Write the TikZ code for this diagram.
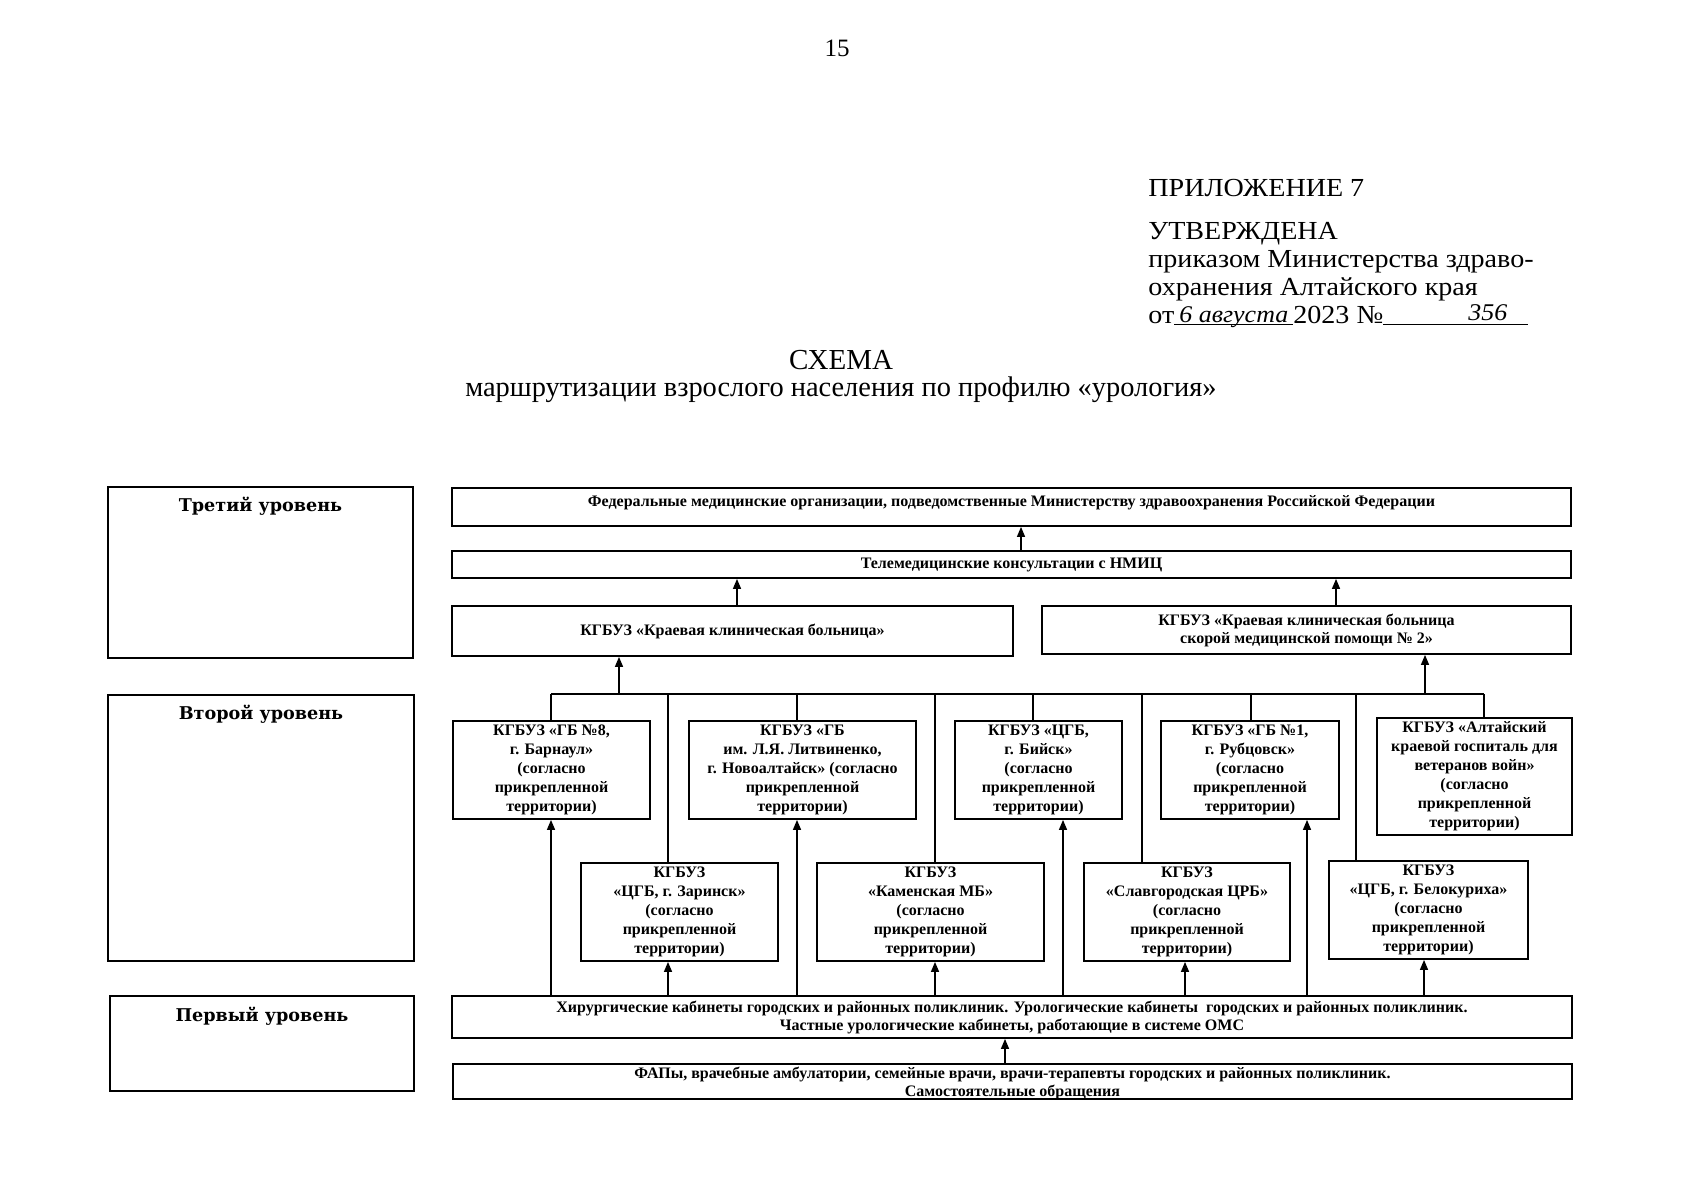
\documentclass[tikz,border=0pt]{standalone}
\usepackage{fontspec}
\setmainfont{Liberation Serif}
\newfontfamily\lvlfont{DejaVu Serif}
\newfontfamily\hdrfont[FakeStretch=1.08]{Liberation Serif}
\usetikzlibrary{arrows.meta,calc,fit}
\tikzset{
  box/.style={draw, line width=0.9pt, inner sep=0pt},
  lvlbox/.style={draw, line width=1.1pt, inner sep=0pt},
  boxtxt/.style={font=\bfseries\fontsize{8}{9.5}\selectfont, align=center, inner sep=0pt},
  smalltxt/.style={font=\bfseries\fontsize{8}{9}\selectfont, align=center, inner sep=0pt},
  lvltxt/.style={font=\lvlfont\bfseries\fontsize{8.8}{11}\selectfont, anchor=base, inner sep=0pt},
  hdr/.style={font=\hdrfont\fontsize{13}{14}\selectfont, anchor=base west, inner sep=0pt},
  conn/.style={line width=0.75pt},
  arr/.style={line width=0.75pt, -{Triangle[width=4pt,length=5pt]}}
}
\newcommand{\handw}[1]{{\itshape\fontsize{12}{14}\selectfont #1}}
\begin{document}
\begin{tikzpicture}[x=0.5pt,y=-0.5pt]
\useasboundingbox[fill=white] (0,0) rectangle (1701,1200);

% header
\node[font=\fontsize{12.5}{14}\selectfont, anchor=base, inner sep=0pt] (pg) at (837,56) {15};
\node[hdr] (h1) at (1148,196) {ПРИЛОЖЕНИЕ 7};
\node[hdr] (h2) at (1148,239) {\vtop{\baselineskip=14pt\lineskiplimit=-30pt\lineskip=0pt
  \hbox{УТВЕРЖДЕНА}
  \hbox{приказом Министерства здраво-}
  \hbox{охранения Алтайского края}
  \hbox{от\rlap{\rule[-1pt]{59.5pt}{0.35pt}}\makebox[59.5pt][c]{\raisebox{0.5pt}{\handw{6 августа}}}2023 №\rlap{\rule[-1pt]{72.5pt}{0.35pt}}\makebox[72.5pt][c]{\hspace{32pt}\raisebox{1.5pt}{\handw{356}}}}}};

\node[font=\fontsize{14.5}{17}\selectfont, anchor=base, inner sep=0pt] (t1) at (841,369) {СХЕМА};
\node[font=\fontsize{14.2}{17}\selectfont, anchor=base, inner sep=0pt] (t2) at (841,396) {маршрутизации взрослого населения по профилю «урология»};

% level boxes
\node[lvlbox, fit={(108,487)(413,658)}] (lvl3) {};
\node[lvlbox, fit={(108,695)(414,961)}] (lvl2) {};
\node[lvlbox, fit={(110,996)(414,1091)}] (lvl1) {};
\node[lvltxt] (l3) at ($(lvl3.north)+(0,26)$) {Третий уровень};
\node[lvltxt] (l2) at ($(lvl2.north)+(0,26)$) {Второй уровень};
\node[lvltxt] (l1) at ($(lvl1.north)+(0,27)$) {Первый уровень};

% third level
\node[box, fit={(452,488)(1571,526)}, label={[smalltxt, yshift=2pt]center:Федеральные медицинские организации, подведомственные Министерству здравоохранения Российской Федерации}] (fed) {};
\node[box, fit={(452,551)(1571,578)}, label={[smalltxt]center:Телемедицинские консультации с НМИЦ}] (tel) {};
\node[box, fit={(452,606)(1013,656)}, label={[smalltxt]center:КГБУЗ «Краевая клиническая больница»}] (kkb) {};
\node[box, fit={(1042,606)(1571,654)}, label={[smalltxt]center:{КГБУЗ «Краевая клиническая больница\\скорой медицинской помощи № 2»}}] (kkb2) {};

% second level, upper row
\node[box, fit={(453,721)(650,819)}, label={[boxtxt]center:{КГБУЗ «ГБ №8,\\г. Барнаул»\\(согласно\\прикрепленной\\территории)}}] (gb8) {};
\node[box, fit={(689,721)(916,819)}, label={[boxtxt]center:{КГБУЗ «ГБ\\им. Л.Я. Литвиненко,\\г. Новоалтайск» (согласно\\прикрепленной\\территории)}}] (lit) {};
\node[box, fit={(955,721)(1122,819)}, label={[boxtxt]center:{КГБУЗ «ЦГБ,\\г. Бийск»\\(согласно\\прикрепленной\\территории)}}] (bij) {};
\node[box, fit={(1161,721)(1339,819)}, label={[boxtxt]center:{КГБУЗ «ГБ №1,\\г. Рубцовск»\\(согласно\\прикрепленной\\территории)}}] (rub) {};
\node[box, fit={(1377,718)(1572,835)}, label={[boxtxt]center:{КГБУЗ «Алтайский\\краевой госпиталь для\\ветеранов войн»\\(согласно\\прикрепленной\\территории)}}] (alt) {};

% second level, lower row
\node[box, fit={(581,863)(778,961)}, label={[boxtxt]center:{КГБУЗ\\«ЦГБ, г. Заринск»\\(согласно\\прикрепленной\\территории)}}] (zar) {};
\node[box, fit={(817,863)(1044,961)}, label={[boxtxt]center:{КГБУЗ\\«Каменская МБ»\\(согласно\\прикрепленной\\территории)}}] (kam) {};
\node[box, fit={(1084,863)(1290,961)}, label={[boxtxt]center:{КГБУЗ\\«Славгородская ЦРБ»\\(согласно\\прикрепленной\\территории)}}] (sl) {};
\node[box, fit={(1329,861)(1528,959)}, label={[boxtxt]center:{КГБУЗ\\«ЦГБ, г. Белокуриха»\\(согласно\\прикрепленной\\территории)}}] (bel) {};

% first level
\node[box, fit={(452,996)(1572,1038)}, label={[smalltxt]center:{Хирургические кабинеты городских и районных поликлиник. Урологические кабинеты\ \ городских и районных поликлиник.\\Частные урологические кабинеты, работающие в системе ОМС}}] (hir) {};
\node[box, fit={(453,1064)(1572,1099)}, label={[smalltxt, yshift=-1pt]center:{ФАПы, врачебные амбулатории, семейные врачи, врачи-терапевты городских и районных поликлиник.\\Самостоятельные обращения}}] (fap) {};

% connectors
\coordinate (busL) at (551,694);
\coordinate (busR) at (1484,694);
\draw[conn] (busL) -- (busR);

\coordinate (xf) at (1021,0);
\coordinate (xk1) at (737,0);
\coordinate (xk2) at (1336,0);
\coordinate (xb1) at (619,0);
\coordinate (xb2) at (1425,0);
\draw[arr] (xf |- tel.north) -- (xf |- fed.south);
\draw[arr] (xk1 |- kkb.north) -- (xk1 |- tel.south);
\draw[arr] (xk2 |- kkb2.north) -- (xk2 |- tel.south);
\draw[arr] (xb1 |- busL) -- (xb1 |- kkb.south);
\draw[arr] (xb2 |- busL) -- (xb2 |- kkb2.south);

% stubs from bus to boxes
\coordinate (s1) at (551,0);
\coordinate (s2) at (797,0);
\coordinate (s3) at (1033,0);
\coordinate (s4) at (1251,0);
\coordinate (s5) at (1484,0);
\coordinate (s6) at (668,0);
\coordinate (s7) at (935,0);
\coordinate (s8) at (1142,0);
\coordinate (s9) at (1356,0);
\draw[conn] (s1 |- busL) -- (s1 |- gb8.north);
\draw[conn] (s2 |- busL) -- (s2 |- lit.north);
\draw[conn] (s3 |- busL) -- (s3 |- bij.north);
\draw[conn] (s4 |- busL) -- (s4 |- rub.north);
\draw[conn] (s5 |- busL) -- (s5 |- alt.north);
\draw[conn] (s6 |- busL) -- (s6 |- zar.north);
\draw[conn] (s7 |- busL) -- (s7 |- kam.north);
\draw[conn] (s8 |- busL) -- (s8 |- sl.north);
\draw[conn] (s9 |- busL) -- (s9 |- bel.north);

% arrows from first level
\coordinate (a1) at (551,0);
\coordinate (a2) at (668,0);
\coordinate (a3) at (797,0);
\coordinate (a4) at (935,0);
\coordinate (a5) at (1063,0);
\coordinate (a6) at (1185,0);
\coordinate (a7) at (1307,0);
\coordinate (a8) at (1424,0);
\draw[arr] (a1 |- hir.north) -- (a1 |- gb8.south);
\draw[arr] (a2 |- hir.north) -- (a2 |- zar.south);
\draw[arr] (a3 |- hir.north) -- (a3 |- lit.south);
\draw[arr] (a4 |- hir.north) -- (a4 |- kam.south);
\draw[arr] (a5 |- hir.north) -- (a5 |- bij.south);
\draw[arr] (a6 |- hir.north) -- (a6 |- sl.south);
\draw[arr] (a7 |- hir.north) -- (a7 |- rub.south);
\draw[arr] (a8 |- hir.north) -- (a8 |- bel.south);

\coordinate (xfap) at (1005,0);
\draw[arr] (xfap |- fap.north) -- (xfap |- hir.south);
\end{tikzpicture}
\end{document}
